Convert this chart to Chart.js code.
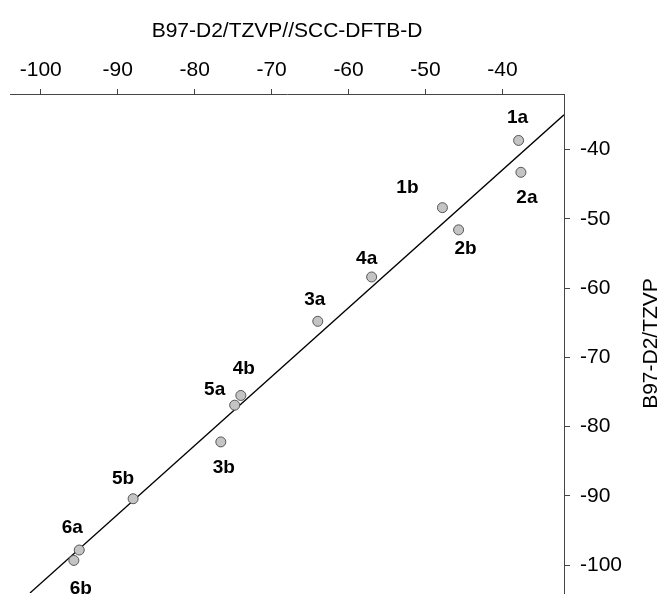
<!DOCTYPE html>
<html>
<head>
<meta charset="utf-8">
<script src="https://cdn.jsdelivr.net/npm/chart.js@4/dist/chart.umd.min.js"></script>
<style>
  html, body { margin: 0; padding: 0; background: #ffffff; }
  #wrap { width: 661px; height: 599px; }
</style>
</head>
<body>
<div id="wrap"><canvas id="c" width="661" height="599"></canvas></div>
<script>
// ---- data ----
const pointLabels = ['1a', '2a', '1b', '2b', '4a', '3a', '4b', '5a', '3b', '5b', '6a', '6b'];
const xValues = [-37.9, -37.6, -47.8, -45.7, -57.0, -64.0, -74.0, -74.8, -76.6, -88.0, -95.0, -95.7];
const yValues = [-38.7, -43.3, -48.4, -51.6, -58.4, -64.8, -75.5, -76.9, -82.2, -90.4, -97.8, -99.3];
const fitX = [-101.4, -32];
const fitY = [-104, -35];
const xTicks = [-100, -90, -80, -70, -60, -50, -40];
const yTicks = [-100, -90, -80, -70, -60, -50, -40];
const xTitle = 'B97-D2/TZVP//SCC-DFTB-D';
const yTitle = 'B97-D2/TZVP';

// ---- label placement (pixel offsets from each point, same order as pointLabels) ----
const labelOffsets = [[-1, -23], [6, 25], [-35, -20], [7, 19], [-5, -18], [-3, -22],
                      [3, -27], [-20, -15], [3, 26], [-10, -20], [-7, -22], [7, 28]];

const FONT = "'Liberation Sans', Arial, Helvetica, sans-serif";
const AXIS_COLOR = '#444444';

const labelPlugin = {
  id: 'pointLabels',
  afterDatasetsDraw(chart) {
    const ctx = chart.ctx;
    const xs = chart.scales.x, ys = chart.scales.y;
    ctx.save();
    ctx.font = 'bold 19px ' + FONT;
    ctx.fillStyle = '#000000';
    ctx.textAlign = 'center';
    ctx.textBaseline = 'middle';
    pointLabels.forEach((lab, i) => {
      const px = xs.getPixelForValue(xValues[i]);
      const py = ys.getPixelForValue(yValues[i]);
      ctx.fillText(lab, px + labelOffsets[i][0], py + labelOffsets[i][1]);
    });
    ctx.restore();
  }
};

const yTitlePlugin = {
  id: 'yTitle',
  afterDraw(chart) {
    const ctx = chart.ctx;
    const ys = chart.scales.y;
    ctx.save();
    ctx.font = '21px ' + FONT;
    ctx.fillStyle = '#000000';
    ctx.textAlign = 'center';
    ctx.textBaseline = 'middle';
    ctx.translate(651, (ys.top + ys.bottom) / 2);
    ctx.rotate(-Math.PI / 2);
    ctx.fillText(yTitle, 0, 0);
    ctx.restore();
  }
};

new Chart(document.getElementById('c'), {
  type: 'scatter',
  data: {
    datasets: [
      {
        type: 'line',
        data: fitX.map((x, i) => ({ x: x, y: fitY[i] })),
        borderColor: '#000000',
        borderWidth: 1.3,
        pointRadius: 0,
        fill: false,
        order: 2
      },
      {
        data: xValues.map((x, i) => ({ x: x, y: yValues[i] })),
        backgroundColor: '#c4c4c4',
        borderColor: '#555555',
        borderWidth: 1,
        pointRadius: 5,
        pointHoverRadius: 5,
        order: 1
      }
    ]
  },
  options: {
    responsive: false,
    animation: false,
    events: [],
    layout: { padding: { left: 10, right: 0, top: 0, bottom: 3 } },
    plugins: { legend: { display: false }, tooltip: { enabled: false } },
    scales: {
      x: {
        type: 'linear',
        position: 'top',
        min: -104,
        max: -32,
        afterBuildTicks: s => { s.ticks = xTicks.map(v => ({ value: v })); },
        afterFit: s => { s.height = 94; s.paddingLeft = 0; s.paddingRight = 0; },
        grid: { drawOnChartArea: false, tickLength: 5, color: AXIS_COLOR },
        border: { color: AXIS_COLOR, width: 1 },
        ticks: { color: '#000000', padding: 6, font: { family: FONT, size: 21 } },
        title: {
          display: true,
          text: xTitle,
          color: '#000000',
          font: { family: FONT, size: 21 },
          padding: { top: 19, bottom: 0 }
        }
      },
      y: {
        type: 'linear',
        position: 'right',
        min: -104,
        max: -32,
        afterBuildTicks: s => { s.ticks = yTicks.map(v => ({ value: v })); },
        afterFit: s => { s.width = 97; s.paddingTop = 0; s.paddingBottom = 0; },
        grid: { drawOnChartArea: false, tickLength: 6, color: AXIS_COLOR },
        border: { color: AXIS_COLOR, width: 1 },
        ticks: { color: '#000000', padding: 10, font: { family: FONT, size: 21 } }
      }
    }
  },
  plugins: [labelPlugin, yTitlePlugin]
});
</script>
</body>
</html>
